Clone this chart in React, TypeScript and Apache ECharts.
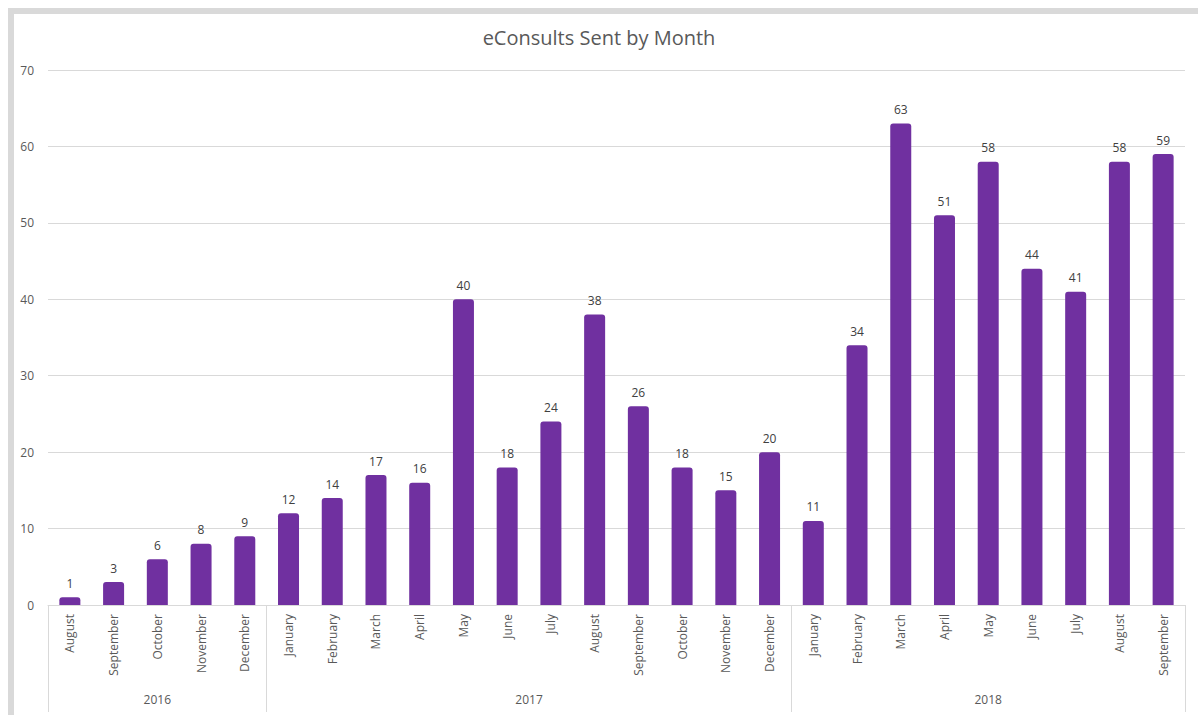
import React, { useEffect, useRef } from "react";
import * as echarts from "echarts";

const months = [
  "August", "September", "October", "November", "December",
  "January", "February", "March", "April", "May", "June", "July", "August", "September", "October", "November", "December",
  "January", "February", "March", "April", "May", "June", "July", "August", "September",
];
const sent = [1, 3, 6, 8, 9, 12, 14, 17, 16, 40, 18, 24, 38, 26, 18, 15, 20, 11, 34, 63, 51, 58, 44, 41, 58, 59];
const years = ["2016", "2017", "2018"];
const yearCounts = [5, 12, 9];
const yTicks = [0, 10, 20, 30, 40, 50, 60, 70];

export default function App() {
  const ref = useRef<HTMLDivElement>(null);
  useEffect(() => {
    if (!ref.current) return;
    const chart = echarts.init(ref.current, undefined, { renderer: "svg" });
    const bounds: number[] = [0];
    const centers: number[] = [];
    yearCounts.forEach((c) => {
      const start = bounds[bounds.length - 1];
      centers.push(start + c / 2);
      bounds.push(start + c);
    });
    const font = "'Open Sans', 'Noto Sans', sans-serif";
    chart.setOption({
      animation: false,
      textStyle: { fontFamily: font },
      title: {
        text: "eConsults Sent by Month",
        left: "center",
        top: 22,
        textStyle: { fontSize: 20, fontWeight: "normal", color: "#595959", fontFamily: font },
      },
      graphic: [
        { type: "rect", shape: { x: 8, y: 8, width: 1190, height: 6 }, style: { fill: "#d9d9d9" } },
        { type: "rect", shape: { x: 8, y: 8, width: 6, height: 707 }, style: { fill: "#d9d9d9" } },
      ],
      grid: { left: 48, right: 13, top: 70, bottom: 110, containLabel: false },
      xAxis: [
        {
          type: "category",
          data: months,
          axisLine: { show: true, lineStyle: { color: "#d9d9d9" } },
          axisTick: { show: false },
          axisLabel: { interval: 0, rotate: 90, margin: 9, fontSize: 12, color: "#595959", fontFamily: font },
        },
        {
          type: "value",
          min: 0,
          max: months.length,
          position: "bottom",
          axisLine: { show: false },
          splitLine: { show: false },
          axisTick: { show: true, customValues: bounds, length: 107, lineStyle: { color: "#d9d9d9" } },
          axisLabel: {
            show: true,
            customValues: centers,
            margin: 88,
            fontSize: 12,
            color: "#595959",
            fontFamily: font,
            formatter: (v: number) => {
              const i = centers.findIndex((c) => Math.abs(c - v) < 1e-6);
              return i >= 0 ? years[i] : "";
            },
          },
        },
      ],
      yAxis: {
        type: "value",
        min: yTicks[0],
        max: yTicks[yTicks.length - 1],
        interval: 10,
        axisLine: { show: false },
        axisTick: { show: false },
        axisLabel: { margin: 14, fontSize: 12, color: "#595959", fontFamily: font },
        splitLine: { lineStyle: { color: "#d9d9d9" } },
      },
      series: [
        {
          type: "bar",
          xAxisIndex: 0,
          data: sent,
          barWidth: 21,
          itemStyle: { color: "#7030A0", borderRadius: [3, 3, 0, 0] },
          label: { show: true, position: "top", distance: 8, fontSize: 12, color: "#404040", fontFamily: font },
        },
      ],
    });
    return () => chart.dispose();
  }, []);
  return (
    <div style={{ position: "fixed", left: 0, top: 0, width: 1198, height: 715, background: "#fff" }}>
      <div ref={ref} style={{ width: 1198, height: 715 }} />
    </div>
  );
}
